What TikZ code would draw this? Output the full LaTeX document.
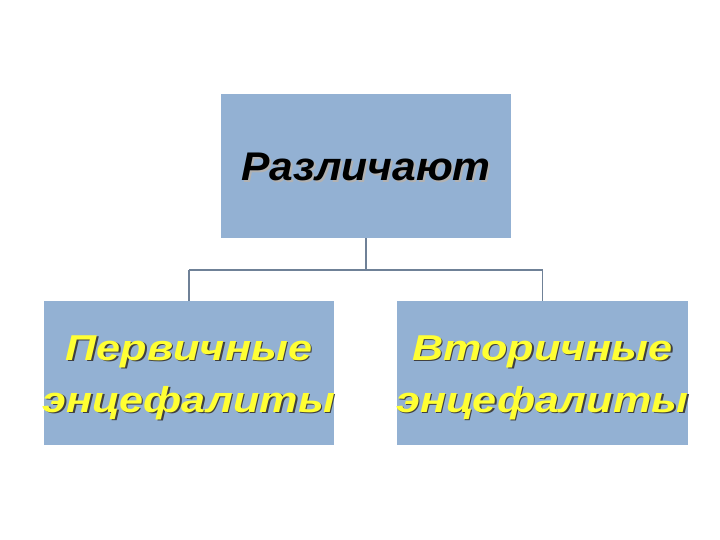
\documentclass[tikz,border=0pt]{standalone}
\usepackage{fontspec}
\setmainfont{Liberation Sans}
\definecolor{boxblue}{HTML}{93B1D3}
\definecolor{linecol}{HTML}{6F8197}
\definecolor{txtyellow}{HTML}{FFFF33}
\newcommand\shdtext[3]{\makebox[0pt][l]{\kern#3\raisebox{-#3}{\textcolor{#1}{#2}}}#2}
\begin{document}
\begin{tikzpicture}[x=1pt,y=-1pt,
  blk/.style={draw=none,fill=boxblue,minimum width=290pt,minimum height=144pt,inner sep=0pt},
  conn/.style={draw=linecol,line width=1.3pt},
  ttl/.style={font=\fontsize{36}{40}\selectfont\bfseries\itshape,align=center}]
\useasboundingbox (0,0) rectangle (720,540);
\fill[white] (0,0) rectangle (720,540);
\node[blk] (top) at (366,166) {};
\node[blk] (left) at (189,373) {};
\node[blk,minimum width=291pt] (right) at (542.5,373) {};
\coordinate (mid) at (366,270);
\coordinate (ml) at (189,270);
\coordinate (mr) at (542.5,270);
\draw[conn] (top.south) -- (mid) (ml) -- (mr) (ml) -- (left.north) (mr) -- (right.north);
% texts
\node[ttl,font=\fontsize{40}{44}\selectfont\bfseries\itshape,text=black,xscale=1.065] (ttext) at ([yshift=-2pt]top.center) {\shdtext{gray!60}{Различают}{1.8pt}};
\node[ttl,text=txtyellow,xscale=1.2] (ltext) at ([yshift=-5pt]left.center) {\shdtext{black!75}{Первичные}{1.2pt}\\[12pt]\shdtext{black!75}{энцефалиты}{1.2pt}};
\node[ttl,text=txtyellow,xscale=1.2] (rtext) at ([yshift=-5pt]right.center) {\shdtext{black!75}{Вторичные}{1.2pt}\\[12pt]\shdtext{black!75}{энцефалиты}{1.2pt}};
\end{tikzpicture}
\end{document}
